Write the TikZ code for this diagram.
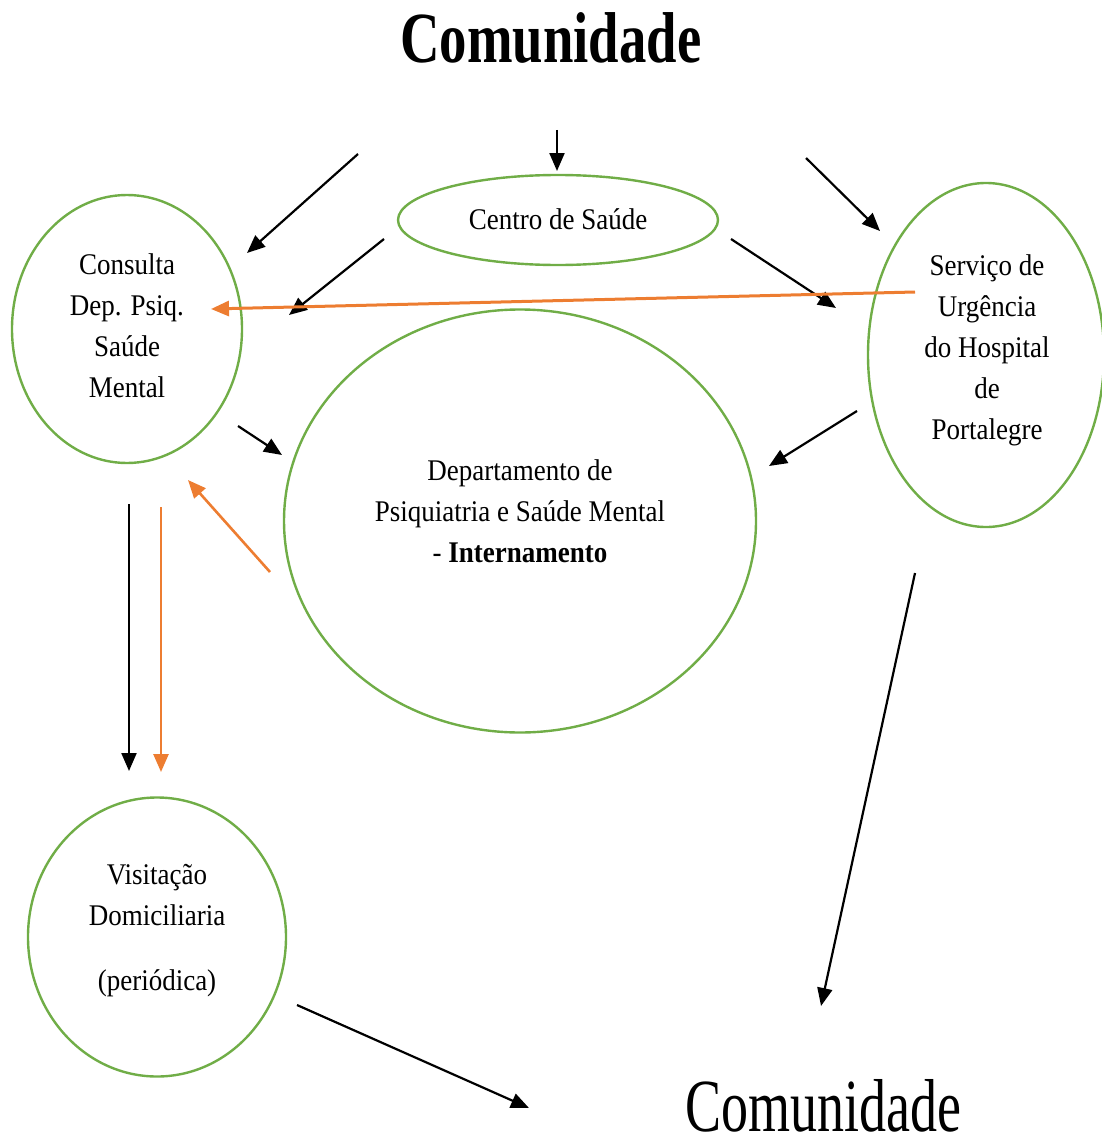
\documentclass[tikz,border=0pt]{standalone}
\usepackage{fontspec}
\setmainfont[FakeStretch=0.9]{Liberation Serif}
\newfontfamily\titlefont[FakeStretch=0.76]{Liberation Serif}
\newfontfamily\bottomfont[FakeStretch=0.72]{Liberation Serif}
\usetikzlibrary{arrows.meta,shapes.geometric}
\definecolor{ovalgreen}{RGB}{112,173,71}
\definecolor{arrorange}{RGB}{237,125,49}
\begin{document}
\begin{tikzpicture}[x=1pt,y=-1pt,
  oval/.style={draw=ovalgreen, line width=2.4pt, ellipse, inner sep=0pt},
  txt/.style={align=center, font=\fontsize{30}{41}\selectfont, inner sep=0pt},
  blk/.style={draw=black, line width=2.2pt, -{Triangle[length=18pt,width=15pt]}},
  org/.style={draw=arrorange, line width=2.6pt, -{Triangle[length=18pt,width=15pt]}}]
\useasboundingbox (0,0) rectangle (1101,1137);

% ovals
\node[oval, minimum width=320, minimum height=90] (centro) at (558,220) {};
\node[oval, minimum width=230, minimum height=268] (consulta) at (127,329) {};
\node[oval, minimum width=236, minimum height=344] (servico) at (986,355) {};
\node[oval, minimum width=472, minimum height=423] (depto) at (520,521) {};
\node[oval, minimum width=258, minimum height=279] (visita) at (157,937) {};

% texts
\node[anchor=base, inner sep=0pt, font=\titlefont\bfseries\fontsize{72}{80}\selectfont] (titulo) at (551,63) {Comunidade};
\node[anchor=base, inner sep=0pt, font=\bottomfont\fontsize{75}{80}\selectfont] (fim) at (823,1131) {Comunidade};
\node[txt] (centroT) at (558,219) {Centro de Saúde};
\node[txt] (consultaT) at (127,326) {Consulta\\Dep. Psiq.\\Saúde\\Mental};
\node[txt] (servicoT) at (987,350) {Serviço de\\Urgência\\do Hospital\\de\\Portalegre};
\node[txt] (deptoT) at (520,511) {Departamento de\\Psiquiatria e Saúde Mental\\- \textbf{Internamento}};
\node[txt] (visitaT) at (157,931) {Visitação\\Domiciliaria\\[24pt](periódica)};

% connector ends
\coordinate (a1s) at (358,154); \coordinate (a1e) at (247,253);
\coordinate (a2s) at (557,130); \coordinate (a2e) at (557,171);
\coordinate (a3s) at (806,158); \coordinate (a3e) at (880,231);
\coordinate (a4s) at (384,239); \coordinate (a4e) at (289,315);
\coordinate (a5s) at (731,239); \coordinate (a5e) at (836,308);
\coordinate (a6s) at (238,426); \coordinate (a6e) at (282,455);
\coordinate (a7s) at (857,411); \coordinate (a7e) at (769,466);
\coordinate (a8s) at (129,504); \coordinate (a8e) at (129,771);
\coordinate (o1s) at (161,507); \coordinate (o1e) at (161,772);
\coordinate (o2s) at (270,572); \coordinate (o2e) at (188,480);
\coordinate (o3s) at (915,292); \coordinate (o3e) at (211,309);
\coordinate (a9s) at (915,573); \coordinate (a9e) at (821,1006);
\coordinate (a10s) at (297,1005); \coordinate (a10e) at (529,1108);

\draw[blk] (a1s) -- (a1e);
\draw[blk] (a2s) -- (a2e);
\draw[blk] (a3s) -- (a3e);
\draw[blk] (a4s) -- (a4e);
\draw[blk] (a5s) -- (a5e);
\draw[blk] (a6s) -- (a6e);
\draw[blk] (a7s) -- (a7e);
\draw[blk] (a8s) -- (a8e);
\draw[org] (o1s) -- (o1e);
\draw[org] (o2s) -- (o2e);
\draw[org, line width=3pt] (o3s) -- (o3e);
\draw[blk] (a9s) -- (a9e);
\draw[blk] (a10s) -- (a10e);
\end{tikzpicture}
\end{document}
